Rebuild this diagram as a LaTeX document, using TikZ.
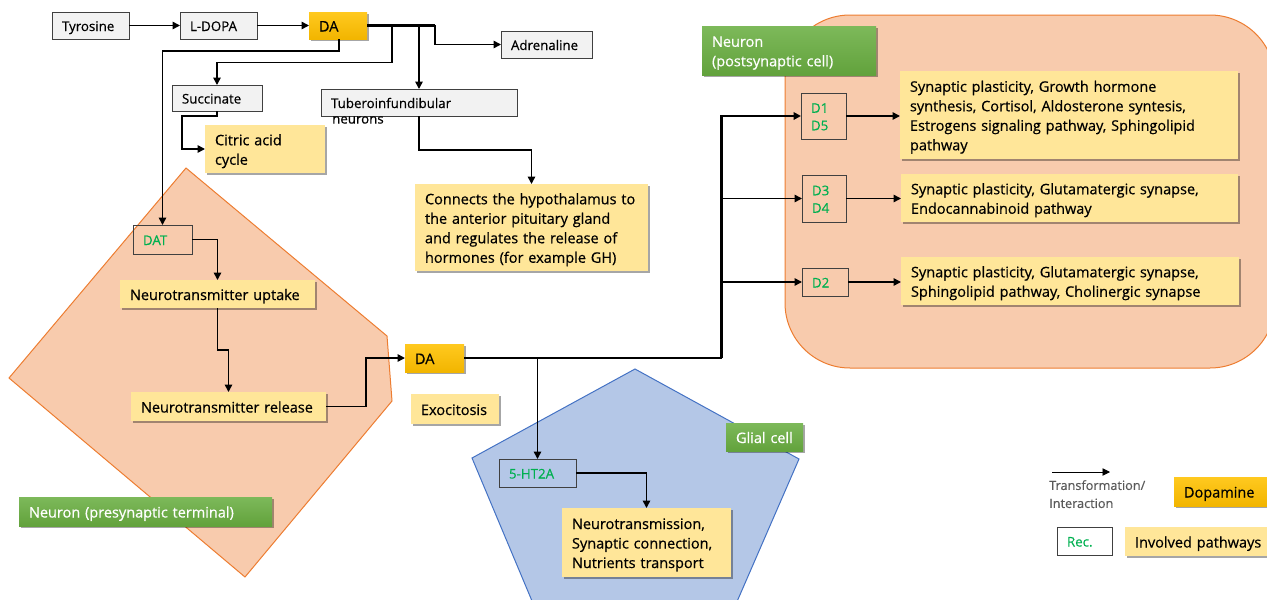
\documentclass[tikz,border=0pt]{standalone}
\usepackage{fontspec}
\setmainfont{Open Sans}[UprightFeatures={FakeBold=0.5}]
\usetikzlibrary{arrows.meta,shadows,calc}
\definecolor{yel}{HTML}{FFE699}
\definecolor{grayf}{HTML}{F2F2F2}
\definecolor{bord}{HTML}{404040}
\definecolor{orf}{HTML}{F8CBAD}
\definecolor{orl}{HTML}{ED7D31}
\definecolor{blf}{HTML}{B4C7E7}
\definecolor{bll}{HTML}{4472C4}
\definecolor{gra}{HTML}{7DB95A}
\definecolor{grb}{HTML}{62A23C}
\definecolor{daa}{HTML}{FFC91F}
\definecolor{dab}{HTML}{F2B500}
\definecolor{recg}{HTML}{00B050}
\definecolor{lgray}{HTML}{595959}
\newcommand\myfb{\fontsize{14.5}{19.5}\selectfont}
\newcommand\myfs{\fontsize{13.3}{17.5}\selectfont}
\begin{document}
\begin{tikzpicture}[x=1pt,y=-1pt,
  bx/.code 2 args={\pgfmathsetmacro\mytw{#1-20}\edef\mytmp{\noexpand\tikzset{minimum width=#1pt,minimum height=#2pt,text width=\mytw pt}}\mytmp},
  base/.style={anchor=north west, inner xsep=10pt, inner ysep=0pt, align=left, outer sep=0pt},
  strb/.style={execute at begin node={\rule{0pt}{16pt}}, execute at end node={\rule[-4pt]{0pt}{4pt}}},
  strs/.style={execute at begin node={\rule{0pt}{14.5pt}}, execute at end node={\rule[-3.5pt]{0pt}{3.5pt}}},
  shadowed/.style={drop shadow={shadow xshift=1.6pt, shadow yshift=-2pt, opacity=0.35, fill=black}},
  gbox/.style={base, strs, draw=bord, fill=grayf, line width=0.9pt, font=\myfs},
  rbox/.style={base, strs, draw=bord, line width=0.9pt, font=\myfs, text=recg},
  ybox/.style={base, strb, fill=yel, font=\myfb, shadowed},
  dbox/.style={base, strb, top color=daa, bottom color=dab, font=\myfb, shadowed},
  glab/.style={base, strb, top color=gra, bottom color=grb, text=white, font=\myfb, shadowed},
  arr/.style={-{Triangle[length=7.5pt,width=7.5pt]}, line width=1.6pt},
  mainline/.style={line width=2.4pt}
]
\useasboundingbox (0,0) rectangle (1267,600);
\clip (0,0) rectangle (1267,600);

% cell shapes
\draw[draw=orl, fill=orf, line width=1pt] (186,168) -- (387,336) -- (392,401) -- (245,577) -- (9,378) -- cycle;
\draw[draw=orl, fill=orf, line width=1pt, rounded corners=65pt] (785,15) rectangle (1275,368);
\draw[draw=bll, fill=blf, line width=1pt] (635,369) -- (799,459) -- (729,620) -- (540,620) -- (472,458) -- cycle;

% top chain
\node[gbox, bx={77}{27}] (tyr) at (52,12) {Tyrosine};
\node[gbox, bx={77}{27}] (ldopa) at (180,12) {L-DOPA};
\node[dbox, bx={58}{27}] (da1) at (309,12) {DA};
\node[gbox, bx={91}{27}] (adr) at (501,31) {Adrenaline};
\node[gbox, bx={90}{26}] (suc) at (172,85) {Succinate};
\node[gbox, bx={196}{27}] (tub) at (321,89) {\mbox{Tuberoinfundibular}};
\node[anchor=west, inner sep=0pt, font=\myfs] (tubn) at (332,120) {neurons};
\node[ybox, bx={120}{48}] (cit) at (205,125) {Citric acid\\cycle};
\node[ybox, bx={233}{87}] (con) at (415,184) {\mbox{Connects the hypothalamus to}\\\mbox{the anterior pituitary gland}\\\mbox{and regulates the release of}\\\mbox{hormones (for example GH)}};

% presynaptic
\node[rbox, bx={59}{29}] (dat) at (133,225) {DAT};
\node[ybox, bx={195}{28}] (upt) at (120,280) {\mbox{Neurotransmitter uptake}};
\node[ybox, bx={195}{29}] (rel) at (131,392) {\mbox{Neurotransmitter release}};
\node[dbox, bx={59}{28}] (da2) at (405,344) {DA};
\node[ybox, bx={88}{30}] (exo) at (411,394) {Exocitosis};
\node[glab, bx={253}{29}] (npre) at (19,497) {\mbox{Neuron (presynaptic terminal)}};

% postsynaptic
\node[glab, bx={174}{49}] (npost) at (702,26) {Neuron\\\mbox{(postsynaptic cell)}};
\node[rbox, bx={45}{46}] (d15) at (801,93) {D1\\D5};
\node[rbox, bx={44}{47}] (d34) at (802,175) {D3\\D4};
\node[rbox, bx={46}{28}] (d2) at (802,268) {D2};
\node[ybox, bx={338}{88}] (p1) at (900,71) {\mbox{Synaptic plasticity, Growth hormone}\\\mbox{synthesis, Cortisol, Aldosterone syntesis,}\\\mbox{Estrogens signaling pathway, Sphingolipid}\\pathway};
\node[ybox, bx={337}{48}] (p2) at (901,174) {\mbox{Synaptic plasticity, Glutamatergic synapse,}\\\mbox{Endocannabinoid pathway}};
\node[ybox, bx={338}{48}] (p3) at (901,257) {\mbox{Synaptic plasticity, Glutamatergic synapse,}\\\mbox{Sphingolipid pathway, Cholinergic synapse}};

% glial
\node[glab, bx={77}{28}] (glial) at (726,423) {\mbox{Glial cell}};
\node[rbox, bx={77}{28}] (ht) at (499,459) {5-HT2A};
\node[ybox, bx={169}{69}] (nt) at (562,508) {\mbox{Neurotransmission,}\\\mbox{Synaptic connection,}\\\mbox{Nutrients transport}};

% legend
\coordinate (la) at (1052,472);
\coordinate (lb) at (1110,472);
\node[anchor=north west, inner sep=0pt, align=left, text=lgray, font=\fontsize{12.7}{18}\selectfont] (ltxt) at (1049,480) {Transformation/\\Interaction};
\node[dbox, bx={110}{29}] (dop) at (1174,477) {Dopamine};
\node[rbox, bx={55}{28}] (rec) at (1057,527) {Rec.};
\node[ybox, bx={170}{29}] (inv) at (1125,527) {\mbox{Involved pathways}};

% connectors, top
\draw[arr] (tyr) -- (ldopa);
\draw[arr] (ldopa) -- (da1);
\draw[mainline] (da1.east) -- ([xshift=68pt]da1.east);
\draw[arr] (da1.east) -| ([xshift=-66pt]adr.west) -- (adr.west);
\draw[arr] (da1.east) -| (tub.north);
\draw[arr] ([xshift=25pt]da1.east) -- ++(0,37) -| (suc.north);
\draw[arr] ([xshift=1pt]da1.south) -- ++(0,12) -| (dat.north);
\draw[arr] (suc.south) -- ++(0,5) -| ([xshift=-23pt]cit.west) -- (cit.west);
\draw[arr] (tub.south) -- ++(0,34) -| (con.north);

% presynaptic connectors
\draw[arr] (dat.east) -| (upt.north);
\draw[arr] (upt.south) -- ++(0,42) -| (rel.north);
\draw[arr] (rel.east) -| ([xshift=-39pt]da2.west) -- (da2.west);

% DA to receptors
\coordinate (hub) at (721.5,358);
\draw[mainline] (da2.east) -- (hub);
\draw[arr, line width=2.2pt] (hub) |- (d15.west);
\draw[arr] (hub) |- (d34.west);
\draw[arr] (hub) |- (d2.west);
\draw[arr] (da2.east -| ht.north) -- (ht.north);
\draw[arr] (d15.east) -- (d15.east -| p1.west);
\draw[arr] (d34.east) -- (d34.east -| p2.west);
\draw[arr] (d2.east) -- (d2.east -| p3.west);
\draw[arr] (ht.east) -| (nt.north);
\draw[arr, line width=0.9pt] (la) -- (lb);
\end{tikzpicture}
\end{document}
